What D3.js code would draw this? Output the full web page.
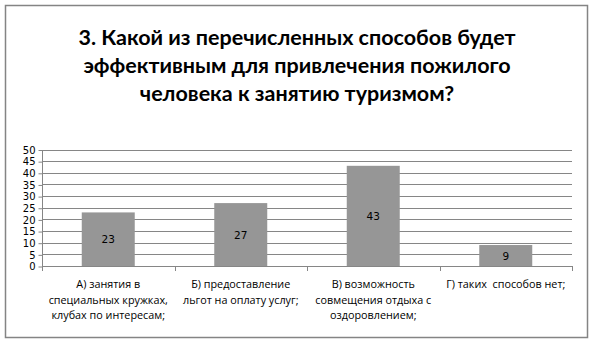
<!DOCTYPE html>
<html>
<head>
<meta charset="utf-8">
<script src="https://cdn.jsdelivr.net/npm/d3@7"></script>
<style>
  body{margin:0;background:#fff;}
  svg{display:block;}
  .ylab text{font-family:"DejaVu Sans",sans-serif;font-size:10px;fill:#000;}
</style>
</head>
<body>
<div id="chart"></div>
<script>
// data
const titleLines = ["3. Какой из перечисленных способов будет",
                    "эффективным для привлечения пожилого",
                    "человека к занятию туризмом?"];
const categories = ["А","Б","В","Г"];
const catLabels = [["А) занятия в","специальных кружках,","клубах по интересам;"],
                   ["Б) предоставление","льгот на оплату услуг;"],
                   ["В) возможность","совмещения отдыха с","оздоровлением;"],
                   ["Г) таких  способов нет;"]];
const values = [23, 27, 43, 9];
const yTicks = [0,5,10,15,20,25,30,35,40,45,50];

const w = 594, h = 351;
const plotL = 42, plotR = 572, plotT = 149.5, plotB = 266;

const svg = d3.select("#chart").append("svg")
    .attr("width", w).attr("height", h);

//chart frame
svg.append("rect")
    .attr("x", 5.5).attr("y", 5.5)
    .attr("width", 582).attr("height", 332)
    .attr("fill", "#fff").attr("stroke", "#848484").attr("stroke-width", 1.5);

//title
svg.append("g").selectAll("text")
    .data(titleLines).enter().append("text")
    .attr("x", 297).attr("y", (d,i) => 45 + i*28)
    .attr("text-anchor", "middle")
    .style("font-family", "Lato, 'Open Sans', sans-serif")
    .style("font-weight", "bold").style("font-size", "21.5px")
    .text(d => d);

const xScale = d3.scaleBand().domain(categories).range([plotL, plotR]).paddingInner(0.6).paddingOuter(0.3);
const yScale = d3.scaleLinear().domain([0, 50]).range([plotB, plotT]);

//gridlines
svg.append("g").selectAll("line")
    .data(yTicks.filter(d => d > 0)).enter().append("line")
    .attr("x1", plotL).attr("x2", plotR)
    .attr("y1", d => Math.round(yScale(d)) + 0.5).attr("y2", d => Math.round(yScale(d)) + 0.5)
    .attr("stroke", "#868686");

//y-axis
const yAxis = d3.axisLeft(yScale).tickValues(yTicks).tickSize(4).tickPadding(3);
const yg = svg.append("g").attr("class", "ylab")
    .attr("transform", "translate(" + (plotL + 0.5) + ",0.5)")
    .call(yAxis);
yg.selectAll("line,path").attr("stroke", "#868686");
yg.select(".domain").attr("d", "M0," + plotT + "V" + plotB);

//bars
svg.append("g").selectAll("rect")
    .data(values).enter().append("rect")
    .attr("x", (d,i) => xScale(categories[i]))
    .attr("y", d => yScale(d))
    .attr("width", xScale.bandwidth())
    .attr("height", d => plotB - yScale(d))
    .attr("fill", "#969696");

//value labels
svg.append("g").selectAll("text")
    .data(values).enter().append("text")
    .attr("x", (d,i) => xScale(categories[i]) + xScale.bandwidth()/2)
    .attr("y", d => (yScale(d) + plotB)/2 + 4)
    .attr("text-anchor", "middle")
    .style("font-family", "'DejaVu Sans', sans-serif").style("font-size", "10.5px")
    .text(d => d);

//x-axis line and ticks at category boundaries
const step = (plotR - plotL) / categories.length;
svg.append("line")
    .attr("x1", plotL).attr("x2", plotR)
    .attr("y1", plotB + 0.5).attr("y2", plotB + 0.5)
    .attr("stroke", "#868686");
svg.append("g").selectAll("line")
    .data(d3.range(categories.length + 1)).enter().append("line")
    .attr("x1", i => Math.round(plotL + i*step) + 0.5).attr("x2", i => Math.round(plotL + i*step) + 0.5)
    .attr("y1", plotB).attr("y2", plotB + 5)
    .attr("stroke", "#868686");

//category labels
const cl = svg.append("g").selectAll("text")
    .data(catLabels).enter().append("text")
    .attr("text-anchor", "middle")
    .style("font-family", "'Open Sans', sans-serif").style("font-size", "10.8px");
cl.selectAll("tspan")
    .data((d,i) => d.map(t => ({t: t, i: i}))).enter().append("tspan")
    .attr("x", d => xScale(categories[d.i]) + xScale.bandwidth()/2)
    .attr("y", (d,j) => 288 + j*15.5)
    .attr("xml:space", "preserve")
    .style("white-space", "pre")
    .text(d => d.t);
</script>
</body>
</html>
